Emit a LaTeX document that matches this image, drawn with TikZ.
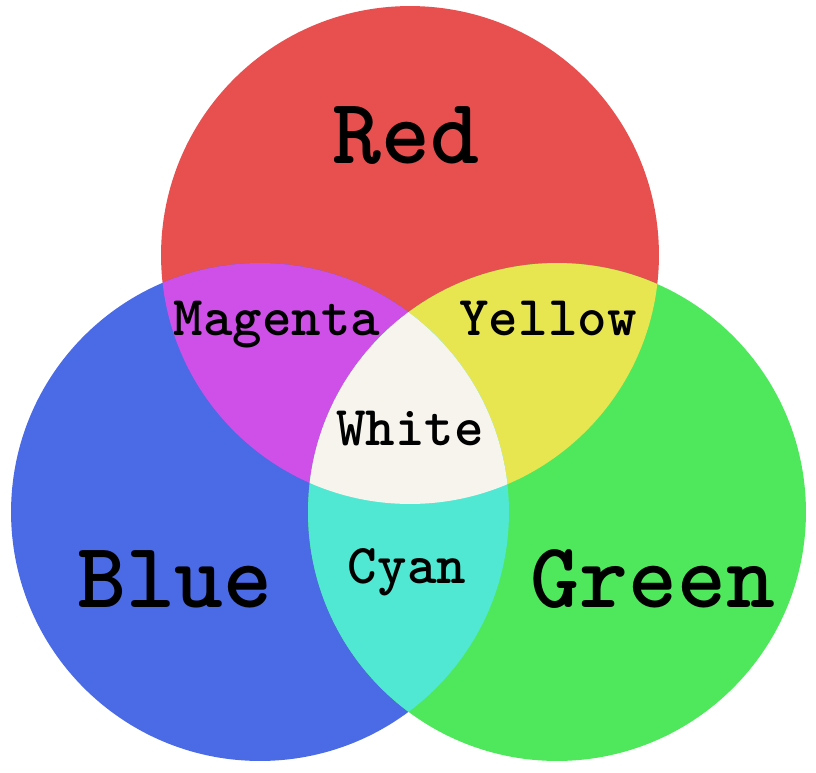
\documentclass[tikz,border=0pt]{standalone}
\usepackage{fontspec}
\usepackage{tikz}
\usetikzlibrary{positioning}

\definecolor{rgbred}{HTML}{E85050}
\definecolor{rgbblue}{HTML}{4A6AE6}
\definecolor{rgbgreen}{HTML}{4FE85C}
\definecolor{rgbmagenta}{HTML}{CF50E8}
\definecolor{rgbyellow}{HTML}{E8E650}
\definecolor{rgbcyan}{HTML}{50E8D2}
\definecolor{rgbwhite}{HTML}{F7F4EE}

\tikzset{
  biglabel/.style={anchor=base, font=\ttfamily\bfseries\fontsize{53pt}{53pt}\selectfont},
  smalllabel/.style={anchor=base, font=\ttfamily\bfseries\fontsize{32pt}{32pt}\selectfont}
}

\newcommand{\redcirc}{(410,255) circle (4.98cm)}
\newcommand{\bluecirc}{(260,512) circle (4.98cm)}
\newcommand{\greencirc}{(557,512) circle (4.98cm)}

\begin{document}
\begin{tikzpicture}[x=0.02cm,y=-0.02cm]
  \useasboundingbox (0,0) rectangle (816,772);
  % primaries
  \fill[rgbred]   \redcirc;
  \fill[rgbblue]  \bluecirc;
  \fill[rgbgreen] \greencirc;
  % pairs
  \begin{scope}
    \clip \redcirc;
    \fill[rgbmagenta] \bluecirc;
    \fill[rgbyellow]  \greencirc;
  \end{scope}
  \begin{scope}
    \clip \bluecirc;
    \fill[rgbcyan] \greencirc;
  \end{scope}
  % all three
  \begin{scope}
    \clip \redcirc;
    \clip \bluecirc;
    \fill[rgbwhite] \greencirc;
  \end{scope}
  % labels
  \node[biglabel]   (red)     at (406,163) {Red};
  \node[biglabel]   (blue)    at (175,607) {Blue};
  \node[biglabel]   (green)   at (653,607) {Green};
  \node[smalllabel] (magenta) at (277,335) {Magenta};
  \node[smalllabel] (yellow)  at (548,335) {Yellow};
  \node[smalllabel] (white)   at (410,445) {White};
  \node[smalllabel] (cyan)    at (407,583) {Cyan};
\end{tikzpicture}
\end{document}
